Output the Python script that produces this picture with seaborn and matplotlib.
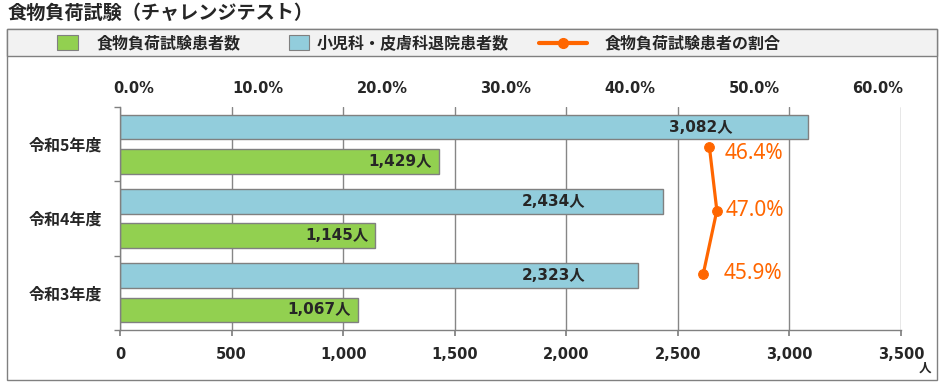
import numpy as np
import pandas as pd
import matplotlib
matplotlib.use("Agg")
import matplotlib.pyplot as plt
import seaborn as sns
from matplotlib.patches import Rectangle
from matplotlib.lines import Line2D

# ---- data ----
years = ["令和5年度", "令和4年度", "令和3年度"]
discharged = [3082, 2434, 2323]          # 小児科・皮膚科退院患者数
challenge = [1429, 1145, 1067]           # 食物負荷試験患者数
ratio = [46.4, 47.0, 45.9]               # 食物負荷試験患者の割合 (%)
series_names = ["小児科・皮膚科退院患者数", "食物負荷試験患者数"]
ratio_name = "食物負荷試験患者の割合"
title = "食物負荷試験（チャレンジテスト）"
x_ticks = np.arange(0, 3501, 500)
pct_ticks = np.arange(0, 61, 10)
unit = "人"

# ---- style ----
BLUE = "#92CDDC"
GREEN = "#92D050"
ORANGE = "#FF6600"
EDGE = "#808080"
GRID = "#868686"
JP = ["Noto Sans CJK JP"]
NUM = ["DejaVu Sans", "Noto Sans CJK JP"]

sns.set_theme(style="white")
plt.rcParams["font.family"] = NUM

W, H = 953, 385
fig = plt.figure(figsize=(W / 100, H / 100), dpi=100)


def rect(x0, y0, x1, y1):
    return [x0 / W, 1 - y1 / H, (x1 - x0) / W, (y1 - y0) / H]


# outer frame and legend band
fig.patches.append(Rectangle((7 / W, 1 - 380 / H), 930 / W, 351 / H, transform=fig.transFigure,
                             facecolor="none", edgecolor=EDGE, lw=1, zorder=-1))
fig.patches.append(Rectangle((7 / W, 1 - 56 / H), 930 / W, 27 / H, transform=fig.transFigure,
                             facecolor="#F2F2F2", edgecolor=EDGE, lw=1, zorder=-1))

fig.text(8 / W, 1 - 13 / H, title, family=JP, fontsize=13.8, fontweight="bold",
         va="center", ha="left")

# legend (manual)
ly = 1 - 43 / H
fig.patches.append(Rectangle((57 / W, 1 - 50 / H), 21 / W, 15 / H, transform=fig.transFigure,
                             facecolor=GREEN, edgecolor=EDGE, lw=0.8))
fig.text(97 / W, ly, series_names[1], family=JP, fontsize=11.5, fontweight="bold", va="center")
fig.patches.append(Rectangle((289 / W, 1 - 50 / H), 20 / W, 15 / H, transform=fig.transFigure,
                             facecolor=BLUE, edgecolor=EDGE, lw=0.8))
fig.text(317 / W, ly, series_names[0], family=JP, fontsize=11.5, fontweight="bold", va="center")
fig.lines.append(Line2D([539 / W, 587 / W], [ly, ly], transform=fig.transFigure, color=ORANGE,
                        lw=3))
fig.lines.append(Line2D([563 / W], [ly], transform=fig.transFigure, color=ORANGE,
                        marker="o", markersize=7))
fig.text(605 / W, ly, ratio_name, family=JP, fontsize=11.5, fontweight="bold", va="center")

# ---- bars ----
ax = fig.add_axes(rect(120, 107, 901, 330))
df = pd.DataFrame({
    "year": years * 2,
    "series": [series_names[0]] * len(years) + [series_names[1]] * len(years),
    "value": discharged + challenge,
})
sns.barplot(data=df, y="year", x="value", hue="series", order=years, hue_order=series_names,
            palette=[BLUE, GREEN], width=0.92, gap=0.28, edgecolor=EDGE, linewidth=1,
            orient="h", ax=ax, legend=False, saturation=1)
ax.set_xlim(0, 3500)
ax.set_ylim(len(years) - 0.5, -0.5)
ax.set_xlabel("")
ax.set_ylabel("")
ax.set_facecolor("none")
ax.set_xticks(x_ticks)
ax.set_xticklabels([f"{v:,}" for v in x_ticks], fontsize=10.5, fontweight="bold")
ax.set_yticks(range(len(years)))
ax.set_yticklabels(years, family=JP, fontsize=11.5, fontweight="bold")
ax.set_yticks(np.arange(-0.5, len(years)), minor=True)
ax.tick_params(axis="y", which="major", length=0, pad=13)
ax.tick_params(axis="y", which="minor", length=4, color=EDGE, direction="out", left=True)
ax.tick_params(axis="x", which="major", length=4.5, color=EDGE, direction="out", bottom=True,
               pad=8)
ax.xaxis.grid(True, color=GRID, lw=1)
ax.yaxis.grid(False)
ax.set_axisbelow(True)
for s in ["top", "right"]:
    ax.spines[s].set_visible(False)
for s in ["left", "bottom"]:
    ax.spines[s].set_color(EDGE)
    ax.spines[s].set_linewidth(1)

# bar labels
blue_shift_px = [75, 78, 53]
for bar, v, sh in zip(ax.containers[0], discharged, blue_shift_px):
    yc = bar.get_y() + bar.get_height() / 2
    ax.annotate(f"{v:,}{unit}", xy=(bar.get_width(), yc), xytext=(-sh * 0.72, 0),
                textcoords="offset points", ha="right", va="center", fontsize=11,
                fontweight="bold", family=NUM)
for bar, v in zip(ax.containers[1], challenge):
    yc = bar.get_y() + bar.get_height() / 2
    ax.annotate(f"{v:,}{unit}", xy=(bar.get_width(), yc), xytext=(-7 * 0.72, 0),
                textcoords="offset points", ha="right", va="center", fontsize=11,
                fontweight="bold", family=NUM)

fig.text(925 / W, 1 - 368 / H, unit, family=JP, fontsize=9, fontweight="bold",
         ha="center", va="center")

# ---- ratio line (own axes, top percent scale) ----
ax3 = fig.add_axes(rect(120, 107, 901, 330))
ax3.set_facecolor("none")
pos = np.arange(1, len(years) + 1)
sns.lineplot(x=ratio, y=pos, sort=False, estimator=None, color=ORANGE, lw=2.3, marker="o",
             markersize=7, markeredgecolor=ORANGE, ax=ax3)
ax3.set_xlim(-1.13, 61.85)
ax3.set_ylim(3.88, 0.37)
ax3.xaxis.tick_top()
ax3.set_xticks(pct_ticks)
ax3.set_xticklabels([f"{v:.1f}%" for v in pct_ticks], fontsize=10.5, fontweight="bold")
ax3.tick_params(axis="x", length=0, pad=8)
ax3.set_yticks([])
ax3.set_xlabel("")
ax3.set_ylabel("")
for s in ax3.spines.values():
    s.set_visible(False)
label_dx_px = [15, 9, 20]
label_dy_px = [6.5, 0, -1]
for x, y, dx, dy in zip(ratio, pos, label_dx_px, label_dy_px):
    ax3.annotate(f"{x:.1f}%", xy=(x, y), xytext=(dx * 0.72, -dy * 0.72),
                 textcoords="offset points", ha="left", va="center", color=ORANGE,
                 fontsize=15, family=["Noto Sans"])

fig.savefig("out.png", dpi=100)
